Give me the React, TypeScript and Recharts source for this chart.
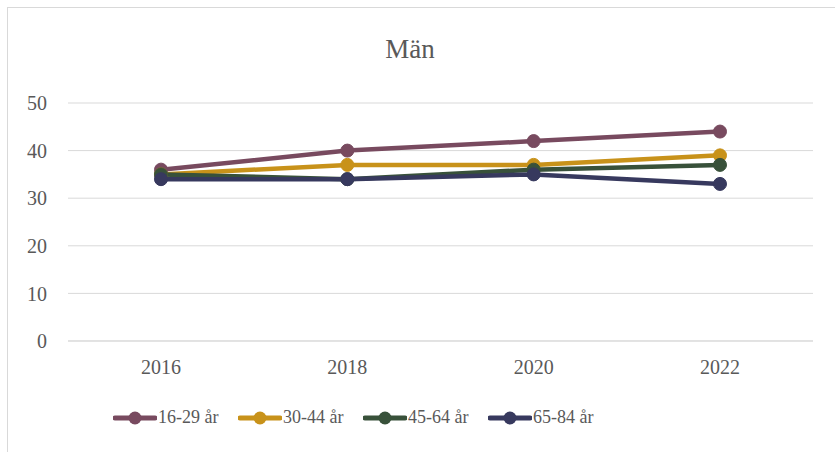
import { LineChart, Line, XAxis, YAxis, CartesianGrid } from 'recharts';

const years = ['2016', '2018', '2020', '2022'];
const age16to29 = [36, 40, 42, 44];
const age30to44 = [35, 37, 37, 39];
const age45to64 = [35, 34, 36, 37];
const age65to84 = [34, 34, 35, 33];
const yTicks = [0, 10, 20, 30, 40, 50];

const series = [
  { key: 'a', name: '16-29 år', color: '#784a5f' },
  { key: 'b', name: '30-44 år', color: '#c8921a' },
  { key: 'c', name: '45-64 år', color: '#38513a' },
  { key: 'd', name: '65-84 år', color: '#37395e' },
];

const data = years.map((year, i) => ({
  year,
  a: age16to29[i],
  b: age30to44[i],
  c: age45to64[i],
  d: age65to84[i],
}));

const FONT = '"Liberation Serif", "Times New Roman", serif';
const TEXT = '#595959';

export default function App() {
  return (
    <div style={{ position: 'absolute', left: 0, top: 0, width: 835, height: 452, overflow: 'hidden', background: '#fff', fontFamily: FONT }}>
      <div style={{ position: 'absolute', left: 7, top: 7, width: 840, height: 460, border: '1px solid #d9d9d9' }} />
      <div style={{ position: 'absolute', left: 0, width: 820, top: 34, textAlign: 'center', fontSize: 27, color: TEXT }}>
        Män
      </div>
      <div style={{ position: 'absolute', left: 0, top: 0 }}>
        <LineChart width={835} height={452} data={data} margin={{ top: 103, right: 22, left: 8, bottom: 81 }}>
          <CartesianGrid vertical={false} stroke="#d9d9d9" strokeWidth={1} />
          <XAxis
            dataKey="year"
            padding={{ left: 93, right: 93 }}
            axisLine={{ stroke: '#d9d9d9' }}
            tickLine={false}
            tickSize={0}
            tickMargin={19}
            height={30}
            tick={{ fill: TEXT, fontSize: 20, fontFamily: FONT }}
          />
          <YAxis
            domain={[0, 50]}
            ticks={yTicks}
            width={60}
            axisLine={false}
            tickLine={false}
            tickSize={0}
            tickMargin={21}
            tick={{ fill: TEXT, fontSize: 20, fontFamily: FONT }}
          />
          {series.map((s) => (
            <Line
              key={s.key}
              dataKey={s.key}
              name={s.name}
              stroke={s.color}
              strokeWidth={4.5}
              dot={{ r: 6.5, fill: s.color, stroke: s.color, strokeWidth: 1 }}
              isAnimationActive={false}
            />
          ))}
        </LineChart>
      </div>
      <div style={{ position: 'absolute', top: 407, left: 113, display: 'flex' }}>
        {series.map((s) => (
          <div key={s.key} style={{ display: 'flex', alignItems: 'center', width: 125 }}>
            <svg width={44} height={20}>
              <line x1={2} y1={10} x2={42} y2={10} stroke={s.color} strokeWidth={5} strokeLinecap="round" />
              <circle cx={22} cy={10} r={6.5} fill={s.color} />
            </svg>
            <span style={{ fontSize: 18, color: TEXT, marginLeft: 1 }}>{s.name}</span>
          </div>
        ))}
      </div>
    </div>
  );
}
